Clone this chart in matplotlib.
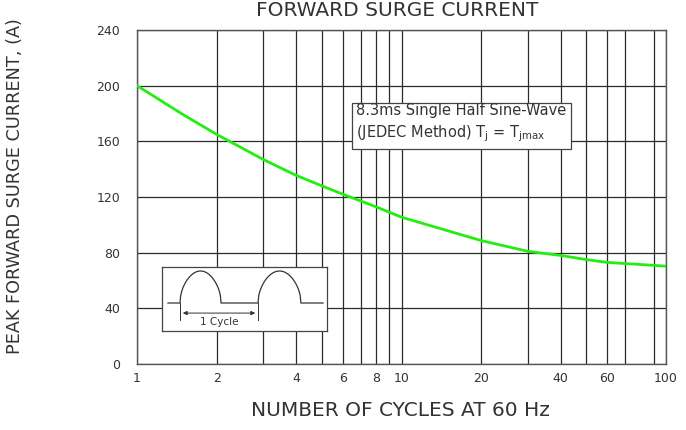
import numpy as np
import matplotlib.pyplot as plt

# values
cycles = [1, 1.5, 2, 3, 4, 5, 6, 8, 10, 20, 30, 40, 50, 60, 80, 100]
current = [200, 179, 165, 147, 135.5, 128, 122, 113, 105.5, 88.7, 81, 78, 75, 73, 71.5, 70.3]

xticks = [1, 2, 4, 6, 8, 10, 20, 40, 60, 100]
yticks = [0, 40, 80, 120, 160, 200, 240]

W, H = 686, 430
fig = plt.figure(figsize=(W / 100, H / 100), dpi=100)
plt.rcParams['font.family'] = 'DejaVu Sans'
txt = '#333333'

ax = fig.add_axes([137 / W, 1 - 364 / H, (666 - 137) / W, (364 - 30) / H])
ax.set_xscale('log')
ax.set_xlim(1, 100)
ax.set_ylim(0, 240)

# grid
ax.set_xticks(xticks)
ax.set_xticklabels([str(t) for t in xticks])
ax.set_xticks([3, 5, 7, 9, 30, 50, 70, 90], minor=True)
ax.set_xticklabels([], minor=True)
ax.set_yticks(yticks)
ax.grid(True, which='both', color='#2b2b2b', lw=0.9)
ax.tick_params(which='both', length=0, colors=txt, labelsize=9)
ax.tick_params(axis='x', pad=6)
ax.tick_params(axis='y', pad=12)
for s in ax.spines.values():
    s.set_color('#555555')
    s.set_linewidth(1.0)

ax.plot(cycles, current, color='#22ee11', lw=2.0, zorder=5)

ax.text(0.414, 0.719, '8.3ms Single Half Sine-Wave\n(JEDEC Method) T$_\\mathregular{j}$ = T$_\\mathregular{jmax}$',
        transform=ax.transAxes, fontsize=10.5, color=txt, va='center', ha='left',
        linespacing=1.4, zorder=6,
        bbox=dict(boxstyle='square,pad=0.3', fc='white', ec='#444444', lw=0.9))

fig.text(397 / W, 1 - 10 / H, 'FORWARD SURGE CURRENT', ha='center', va='center',
         fontsize=14.5, color=txt)
fig.text(400 / W, 1 - 410 / H, 'NUMBER OF CYCLES AT 60 Hz', ha='center', va='center',
         fontsize=14.5, color=txt)
fig.text(15 / W, 1 - 186 / H, 'PEAK FORWARD SURGE CURRENT, (A)', ha='center', va='center',
         rotation=90, fontsize=12.7, color=txt)

# waveform inset
ins = fig.add_axes([162 / W, 1 - 331 / H, 165 / W, 64 / H])
ins.set_xlim(0, 1)
ins.set_ylim(0, 1)
ins.set_xticks([])
ins.set_yticks([])
for s in ins.spines.values():
    s.set_color('#444444')
    s.set_linewidth(0.9)
base, peak = 0.4375, 0.9375
t = np.linspace(0, 1, 60)
hump = np.sqrt(np.sin(np.pi * t))
wx = np.concatenate([[0.036], 0.109 + t * 0.249, [0.582], 0.582 + t * 0.26, [0.976]])
wy = np.concatenate([[base], base + hump * (peak - base), [base], base + hump * (peak - base), [base]])
ins.plot(wx, wy, color='#333333', lw=0.9)
ins.annotate('', xy=(0.109, 0.28), xytext=(0.582, 0.28),
             arrowprops=dict(arrowstyle='<|-|>', color='#333333', lw=0.7, mutation_scale=6))
ins.plot([0.109, 0.109], [base, 0.17], color='#333333', lw=0.7)
ins.plot([0.582, 0.582], [base, 0.17], color='#333333', lw=0.7)
ins.text(0.345, 0.14, '1 Cycle', ha='center', va='center', fontsize=7.5, color=txt)

fig.savefig('out.png', dpi=100)
